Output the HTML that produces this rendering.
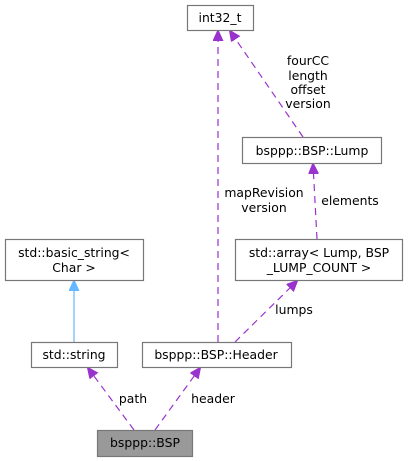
<!DOCTYPE html>
<html><head><style>body{margin:0;background:#fff}svg{display:block}</style></head><body>
<svg width="409" height="461" viewBox="0 0 409 461" xmlns="http://www.w3.org/2000/svg" font-family="DejaVu Sans, Liberation Sans, sans-serif" font-size="12.4" fill="#000">
<defs>
<marker id="p" markerWidth="12" markerHeight="12" refX="10" refY="5" orient="auto" markerUnits="userSpaceOnUse"><path d="M0,0 L11,5 L0,10 z" fill="#9a32cd" stroke="#9a32cd"/></marker>
<marker id="b" markerWidth="12" markerHeight="12" refX="10" refY="5" orient="auto" markerUnits="userSpaceOnUse"><path d="M0,0 L11,5 L0,10 z" fill="#63b8ff" stroke="#63b8ff"/></marker>
</defs>
<g stroke="#9a32cd" stroke-width="1.2" stroke-dasharray="7,5" fill="none">
<line x1="218" y1="342" x2="218" y2="31" marker-end="url(#p)"/>
<line x1="303" y1="137" x2="230" y2="31" marker-end="url(#p)"/>
<line x1="317" y1="239" x2="313" y2="164" marker-end="url(#p)"/>
<line x1="235" y1="342" x2="297" y2="281" marker-end="url(#p)"/>
<line x1="134" y1="430" x2="88" y2="368" marker-end="url(#p)"/>
<line x1="155" y1="430" x2="200" y2="368" marker-end="url(#p)"/>
</g>
<line x1="74" y1="342" x2="74" y2="281" stroke="#63b8ff" stroke-width="1.2" marker-end="url(#b)"/>
<g stroke="#777" stroke-width="1.2" fill="#fff">
<rect x="187.5" y="5.5" width="66" height="25"/>
<rect x="242.5" y="137.5" width="139" height="26"/>
<rect x="235.5" y="239.5" width="167" height="41"/>
<rect x="5.5" y="239.5" width="138" height="41"/>
<rect x="31.5" y="342.5" width="86" height="25"/>
<rect x="142.5" y="342.5" width="149" height="25"/>
<rect x="97.5" y="430.5" width="95" height="26" fill="#999"/>
</g>
<g text-anchor="middle">
<text x="220" y="22">int32_t</text>
<text x="312" y="155">bsppp::BSP::Lump</text>
<text x="319" y="257">std::array&lt; Lump, BSP</text>
<text x="319" y="272">_LUMP_COUNT &gt;</text>
<text x="74" y="257">std::basic_string&lt;</text>
<text x="74" y="272">Char &gt;</text>
<text x="74" y="359">std::string</text>
<text x="216" y="359">bsppp::BSP::Header</text>
<text x="145" y="447">bsppp::BSP</text>
<text x="308" y="65">fourCC</text>
<text x="308" y="80">length</text>
<text x="308" y="94">offset</text>
<text x="308" y="108">version</text>
<text x="264" y="197">mapRevision</text>
<text x="264" y="212">version</text>
<text x="350" y="205">elements</text>
<text x="294" y="314">lumps</text>
<text x="133" y="403">path</text>
<text x="213" y="403">header</text>
</g>
</svg>
</body></html>
